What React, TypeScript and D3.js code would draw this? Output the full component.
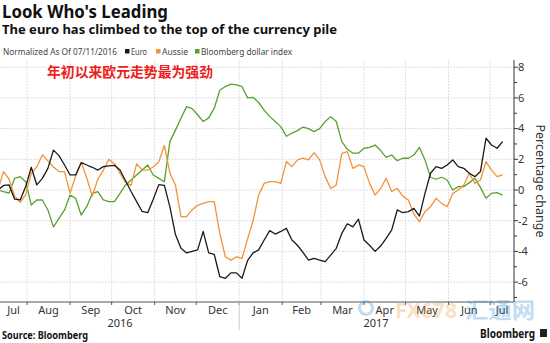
import React from "react";
import * as d3 from "d3";

// Sampling grid: every 4 calendar days from the normalization date
const START = new Date(2016, 6, 11);
const END = new Date(2017, 6, 11);
const dates: Date[] = d3.timeDay.range(START, new Date(2017, 6, 12), 4);

const euro = [
  0, 0.3, 0.33, -0.6, -0.65, 0.22, 1.48, 0.33, 0.76, 1.41, 2.6, 2.24, 1.63, 0.98, 0.98, 1.78, 1.63, 1.48, 1.3, 1.52,
  1.57, 1.61, 1.3, 0.6, -0.1, -0.76, -1.4, -1.48, -0.6, 0.35, 0.3, -1.1, -2.9, -3.8, -4.1, -4.0, -3.9, -2.7, -4.1, -4.2,
  -5.65, -5.75, -5.4, -5.4, -5.75, -4.6, -4.1, -3.9, -3.26, -2.65, -2.87, -2.7, -2.5, -3.26, -3.6, -4.07, -4.57, -4.46, -4.57, -4.67,
  -4.24, -3.8, -2.83, -2.2, -2.4, -1.9, -3.26, -3.6, -4.0, -3.65, -3.15, -2.6, -1.3, -1.48, -1.41, -1.2, -1.7, -0.22, 1.09, 1.52,
  1.41, 1.63, 1.96, 1.52, 1.41, 1.09, 0.87, 1.2, 3.37, 2.93, 2.72, 3.15,
];
const aussie = [
  0, 1.2, 0.7, -0.4, -0.8, -0.3, 1.1, 1.5, 2.3, 1.9, 1.5, 1.2, 1.2, -0.2, 0.9, 1.8, 0.8, -0.4, 0.7, 1.3,
  2.0, 1.7, 1.1, 0.5, 0.3, 1.7, 1.3, 1.3, 1.5, 1.85, 2.9, 1.1, 0.33, -1.74, -1.74, -1.3, -1.0, -0.87, -0.76, -0.76,
  -2.83, -4.35, -4.57, -4.35, -4.46, -3.2, -2.0, -0.33, 0.43, 0.54, 0.54, 0.43, 1.85, 1.52, 1.96, 2.07, 1.96, 2.43, 1.96, 0.87,
  0.1, 0.33, 2.39, 2.5, 1.41, 1.63, 1.52, 0.43, -0.33, 0.1, 0.76, -0.1, 0.1, -0.4, -0.65, -1.57, -2.07, -1.41, -1.09, -0.54,
  -0.87, -1.09, -0.22, 0, 0.33, 1.09, 0.43, 0.65, 1.85, 1.3, 0.87, 0.98,
];
const dollarIndex = [
  0, -0.1, -0.2, 0.76, 0.87, 0.54, -0.98, -0.65, -0.65, -1.3, -2.4, -1.85, -1.3, -0.33, -0.54, -1.63, -1.09, -0.22, -0.1, -0.65,
  -0.76, -0.76, -0.22, 0.33, 0.65, 0.98, 1.3, 1.63, 0.98, 0.76, 0.54, 3.15, 3.9, 4.67, 5.43, 5.3, 4.9, 4.46, 4.7, 5.33,
  6.5, 6.74, 6.9, 6.85, 6.74, 6.0, 6.04, 5.7, 5.2, 4.78, 4.46, 4.13, 3.5, 3.7, 3.87, 4.1, 4.0, 3.8, 4.0, 4.46,
  4.78, 4.46, 3.15, 2.65, 2.4, 2.4, 2.72, 2.78, 2.93, 2.57, 2.13, 2.28, 1.91, 2.07, 2.07, 2.28, 2.78, 1.96, 0.83, 0.7,
  0.83, 0.65, 0, 0.22, 0.22, 0.48, 0.76, 0.17, -0.54, -0.22, -0.17, -0.33,
];

const seriesNames = ["Euro", "Aussie", "Bloomberg dollar index"];
const seriesColors = ["#1a1a1a", "#f39237", "#58a12f"];
const yTicks = [-6, -4, -2, 0, 2, 4, 6, 8];
const years = ["2016", "2017"];

const FONT = "'Noto Sans', 'DejaVu Sans', sans-serif";

export default function App() {
  const plotL = 0, plotR = 514, plotT = 60, plotB = 302;
  const x = d3.scaleTime().domain([START, END]).range([-2, 504]);
  const y = d3.scaleLinear().domain([0, 8]).range([190, 67.2]);

  const monthStarts = d3.timeMonth.range(new Date(2016, 6, 1), new Date(2017, 7, 1));
  const gridMonths = monthStarts.filter((m) => x(m) > plotL && x(m) < plotR);

  const line = d3
    .line<number>()
    .x((_, i) => x(dates[i]))
    .y((v) => y(v));

  const series = [dollarIndex, aussie, euro];
  const sColors = [seriesColors[2], seriesColors[1], seriesColors[0]];

  const minorTicks = d3.range(-7, 9, 1);
  const yearSep = x(new Date(2017, 0, 1));

  return (
    <svg
      width={550}
      height={343}
      style={{ position: "absolute", left: 0, top: 0, background: "#fff" }}
      fontFamily={FONT}
    >
      <defs>
        <clipPath id="plot">
          <rect x={plotL} y={plotT} width={plotR - plotL} height={plotB - plotT} />
        </clipPath>
      </defs>
      <rect x={0} y={0} width={550} height={343} fill="#fff" />

      {/* Titles */}
      <text x={2} y={18} fontSize={17} fontWeight="bold" fill="#111" textLength={166} lengthAdjust="spacingAndGlyphs">
        Look Who's Leading
      </text>
      <text x={2} y={34} fontSize={12.5} fontWeight="bold" fill="#111" textLength={335} lengthAdjust="spacingAndGlyphs">
        The euro has climbed to the top of the currency pile
      </text>

      {/* Legend */}
      <text x={3} y={55} fontSize={9} fill="#444" textLength={114} lengthAdjust="spacingAndGlyphs">
        Normalized As Of 07/11/2016
      </text>
      {[
        { sx: 125, tx: 131, tl: 16 },
        { sx: 156, tx: 162, tl: 26 },
        { sx: 195, tx: 201, tl: 91 },
      ].map((p, i) => (
        <g key={seriesNames[i]}>
          <rect x={p.sx} y={49} width={4.5} height={4.5} fill={seriesColors[i]} />
          <text x={p.tx} y={55} fontSize={9} fill="#444" textLength={p.tl} lengthAdjust="spacingAndGlyphs">
            {seriesNames[i]}
          </text>
        </g>
      ))}

      {/* Gridlines */}
      {yTicks.map((t) => (
        <line key={"h" + t} x1={plotL} x2={plotR} y1={y(t)} y2={y(t)} stroke="#d8d8d8" strokeWidth={0.8} strokeDasharray="2,1" />
      ))}
      {gridMonths.map((m) => (
        <line key={"v" + m.getTime()} x1={x(m)} x2={x(m)} y1={plotT} y2={plotB} stroke="#d8d8d8" strokeWidth={0.8} strokeDasharray="2,1" />
      ))}

      {/* Chinese annotation */}
      <text
        x={47}
        y={77}
        fontSize={14}
        fontWeight="bold"
        fill="#ee1c1c"
        fontFamily="'Noto Sans CJK SC', sans-serif"
        textLength={166}
        lengthAdjust="spacingAndGlyphs"
      >
        年初以来欧元走势最为强劲
      </text>

      {/* Lines */}
      <g clipPath="url(#plot)">
        {series.map((s, i) => (
          <path key={i} d={line(s) || ""} fill="none" stroke={sColors[i]} strokeWidth={1.3} strokeLinejoin="round" />
        ))}
      </g>

      {/* Right axis */}
      <line x1={plotR} x2={plotR} y1={plotT} y2={plotB} stroke="#333" strokeWidth={1} />
      {minorTicks.map((t) => (
        <line key={"mt" + t} x1={plotR} x2={plotR + (t % 2 === 0 ? 4 : 3)} y1={y(t)} y2={y(t)} stroke="#333" strokeWidth={1} />
      ))}
      {yTicks.map((t) => (
        <text key={"yl" + t} x={518} y={y(t)} dy="0.35em" fontSize={11} fill="#333">
          {t < 0 ? "-" + Math.abs(t) : String(t)}
        </text>
      ))}
      <text transform="translate(540,181) rotate(90)" textAnchor="middle" dy="0.35em" fontSize={12} fill="#333" textLength={113} lengthAdjust="spacingAndGlyphs">
        Percentage change
      </text>

      {/* Bottom axis */}
      <line x1={plotL} x2={plotR} y1={plotB} y2={plotB} stroke="#555" strokeWidth={1} />
      {gridMonths.map((m) => (
        <line key={"bt" + m.getTime()} x1={x(m)} x2={x(m)} y1={plotB} y2={plotB + 3} stroke="#555" strokeWidth={1} />
      ))}
      {monthStarts.map((m) => {
        const a = Math.max(plotL, x(m));
        const b = Math.min(plotR, x(d3.timeMonth.offset(m, 1)));
        if (b - a < 10) return null;
        return (
          <text key={"ml" + m.getTime()} x={(a + b) / 2} y={314} textAnchor="middle" fontSize={11} fill="#333">
            {d3.timeFormat("%b")(m)}
          </text>
        );
      })}
      <line x1={yearSep} x2={yearSep} y1={plotB} y2={330} stroke="#ccc" strokeWidth={1} />
      <text x={120} y={327} textAnchor="middle" fontSize={11} fill="#333">{years[0]}</text>
      <text x={376} y={327} textAnchor="middle" fontSize={11} fill="#333">{years[1]}</text>

      {/* Watermark */}
      <g opacity={0.3}>
        <circle cx={366} cy={308} r={6.5} fill="none" stroke="#3a8fd6" strokeWidth={3} />
        <text x={395} y={318} fontSize={22} fontWeight="bold" fill="#f39a3a" textLength={62} lengthAdjust="spacingAndGlyphs">FX678</text>
        <text x={465} y={318} fontSize={22} fontWeight="bold" fill="#3a8fd6" fontFamily="'Noto Sans CJK SC', sans-serif" textLength={70} lengthAdjust="spacingAndGlyphs">汇通网</text>
      </g>

      {/* Footer */}
      <text x={2} y={339} fontSize={10} fontWeight="bold" fill="#111" textLength={86} lengthAdjust="spacingAndGlyphs">
        Source: Bloomberg
      </text>
      <text x={480} y={338} fontSize={12.5} fontWeight="bold" fill="#111" textLength={55} lengthAdjust="spacingAndGlyphs">
        Bloomberg
      </text>
      <rect x={540} y={329} width={7} height={8} fill="#222" />
    </svg>
  );
}
